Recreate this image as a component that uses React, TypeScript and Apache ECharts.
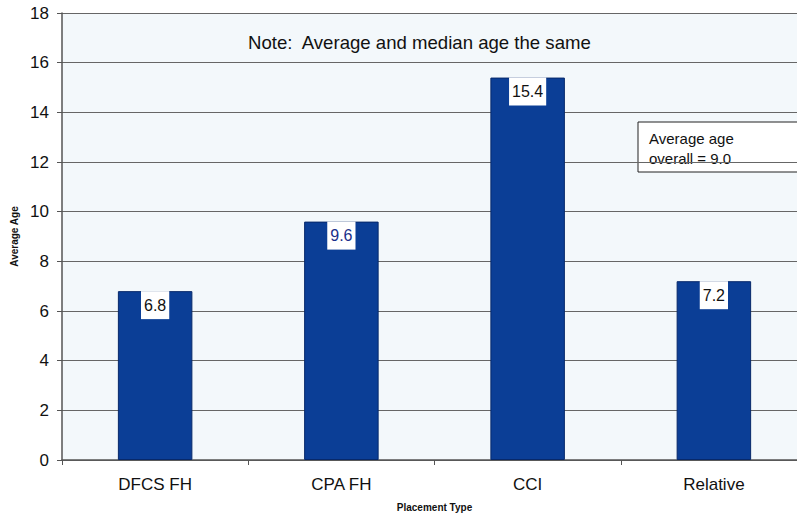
import React, { useEffect, useRef } from "react";
import * as echarts from "echarts";

const categories = ["DFCS FH", "CPA FH", "CCI", "Relative"];
const averageAges = [6.8, 9.6, 15.4, 7.2];
const labelColors = ["#111111", "#1a2f8a", "#111111", "#111111"];
const yTicks = { min: 0, max: 18, interval: 2 };
const noteText = "Note:  Average and median age the same";
const overallText = "Average age\noverall = 9.0";

export default function App() {
  const ref = useRef<HTMLDivElement>(null);
  useEffect(() => {
    if (!ref.current) return;
    const chart = echarts.init(ref.current, undefined, { renderer: "svg" });
    const font = "'Liberation Sans', Arial, sans-serif";
    chart.setOption({
      animation: false,
      backgroundColor: "#ffffff",
      textStyle: { fontFamily: font },
      grid: {
        left: 62,
        top: 13,
        bottom: 57,
        right: -10,
        outerBoundsMode: "none",
        containLabel: false,
        show: true,
        backgroundColor: "#f3f8fb",
        borderWidth: 0,
      },
      xAxis: {
        type: "category",
        data: categories,
        name: "Placement Type",
        nameLocation: "middle",
        nameGap: 42,
        nameTextStyle: { fontSize: 10, fontWeight: "bold", color: "#111", fontFamily: font },
        axisLine: { lineStyle: { color: "#555", width: 1.5 } },
        axisTick: { show: true, length: 5, lineStyle: { color: "#555" } },
        axisLabel: { fontSize: 17, color: "#111", margin: 16, fontFamily: font },
      },
      yAxis: {
        type: "value",
        min: yTicks.min,
        max: yTicks.max,
        interval: yTicks.interval,
        name: "Average Age",
        nameLocation: "middle",
        nameGap: 37,
        nameTextStyle: { fontSize: 10, fontWeight: "bold", color: "#111", fontFamily: font },
        axisLine: { show: true, lineStyle: { color: "#555", width: 1.5 } },
        axisTick: { show: true, length: 5, lineStyle: { color: "#555" } },
        axisLabel: { fontSize: 17, color: "#111", margin: 13, fontFamily: font },
        splitLine: { show: true, lineStyle: { color: "#666", width: 1 } },
      },
      series: [
        {
          type: "bar",
          data: averageAges.map((v, i) => ({
            value: v,
            label: { color: labelColors[i] },
          })),
          barWidth: "40%",
          itemStyle: { color: "#0b3e96", borderColor: "#07286a", borderWidth: 1 },
          label: {
            show: true,
            position: "insideTop",
            distance: 0,
            formatter: (p: any) => p.value.toFixed(1),
            backgroundColor: "#ffffff",
            padding: [6, 3, 6, 3],
            fontSize: 16,
            fontFamily: font,
          },
        },
      ],
      graphic: [
        {
          type: "text",
          left: 248,
          top: 33,
          style: { text: noteText, fontSize: 18.6, fill: "#111", fontFamily: font },
        },
        {
          type: "rect",
          shape: { x: 638, y: 122, width: 170, height: 50 },
          style: { fill: "#ffffff", stroke: "#222", lineWidth: 1 },
        },
        {
          type: "text",
          x: 649,
          y: 128,
          style: { text: overallText, fontSize: 15, lineHeight: 20, fill: "#111", fontFamily: font },
        },
      ],
    });
    return () => chart.dispose();
  }, []);
  return (
    <div
      ref={ref}
      style={{ position: "absolute", left: 0, top: 0, width: 797, height: 517 }}
    />
  );
}
